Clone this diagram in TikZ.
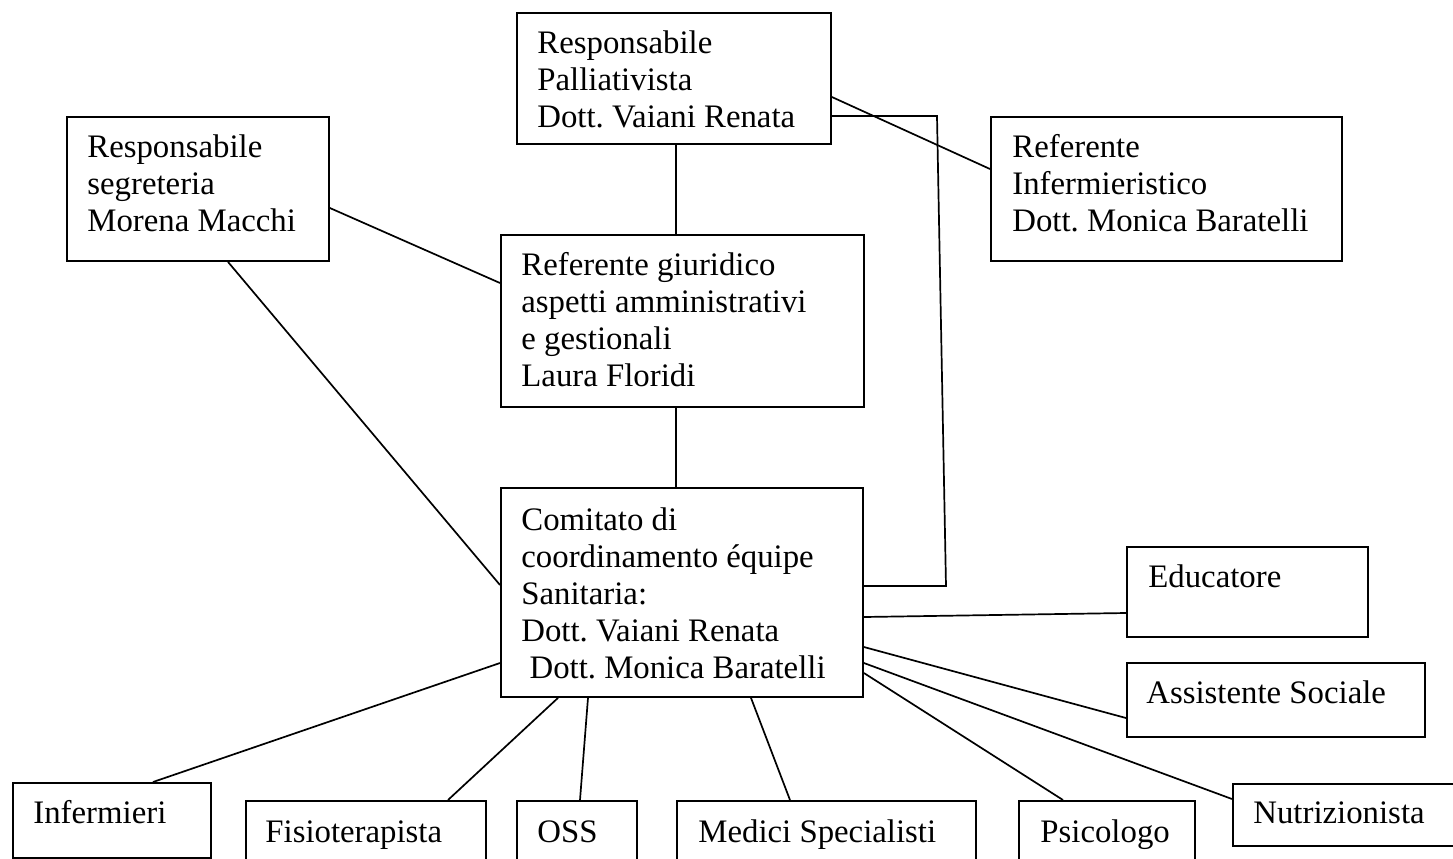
\documentclass[tikz,border=0pt]{standalone}
\usepackage{fontspec}
\setmainfont{Liberation Serif}
\usetikzlibrary{calc}
\frenchspacing
\def\px{0.5pt}
\tikzset{
  box/.style={draw, line width=0.95pt, inner sep=0pt, anchor=north west, fill=white},
  txt/.style={anchor=base west, inner sep=0pt, font=\fontsize{16.4}{18.5}\selectfont},
  conn/.style={line width=0.85pt}
}
\newcommand{\lns}[1]{\begin{tabular}[t]{@{}l@{}}#1\end{tabular}}
\begin{document}
\begin{tikzpicture}[x=0.5pt,y=-0.5pt]
\fill[white] (0,0) rectangle (1453,858);
\clip (0,0) rectangle (1453,858);
% boxes
\node[box, minimum width=314*\px, minimum height=131*\px] (pall) at (516,12) {};
\node[box, minimum width=262*\px, minimum height=144*\px] (seg) at (66,116) {};
\node[box, minimum width=351*\px, minimum height=144*\px] (ref) at (990,116) {};
\node[box, minimum width=363*\px, minimum height=172*\px] (giur) at (500,234) {};
\node[box, minimum width=362*\px, minimum height=209*\px] (com) at (500,487) {};
\node[box, minimum width=241*\px, minimum height=90*\px] (edu) at (1126,546) {};
\node[box, minimum width=298*\px, minimum height=74*\px] (ass) at (1126,662) {};
\node[box, minimum width=198*\px, minimum height=75*\px] (inf) at (12,782) {};
\node[box, minimum width=240*\px, minimum height=80*\px] (fis) at (245,800) {};
\node[box, minimum width=120*\px, minimum height=80*\px] (oss) at (516,800) {};
\node[box, minimum width=299*\px, minimum height=80*\px] (med) at (676,800) {};
\node[box, minimum width=176*\px, minimum height=80*\px] (psi) at (1018,800) {};
\node[box, minimum width=238*\px, minimum height=62*\px] (nut) at (1232,783) {};
% texts
\node[txt] (tpall) at ($(pall.north west)+(21,41)$) {\lns{Responsabile\\Palliativista\\Dott. Vaiani Renata}};
\node[txt] (tseg) at ($(seg.north west)+(21,41)$) {\lns{Responsabile\\segreteria\\Morena Macchi}};
\node[txt] (tref) at ($(ref.north west)+(22,41)$) {\lns{Referente\\Infermieristico\\Dott. Monica Baratelli}};
\node[txt] (tgiur) at ($(giur.north west)+(21,41)$) {\lns{Referente giuridico\\aspetti amministrativi\\e gestionali\\Laura Floridi}};
\node[txt] (tcom) at ($(com.north west)+(21,43)$) {\lns{Comitato di\\coordinamento équipe\\Sanitaria:\\Dott. Vaiani Renata\\\ Dott. Monica Baratelli}};
\node[txt] (tedu) at ($(edu.north west)+(22,41)$) {Educatore};
\node[txt] (tass) at ($(ass.north west)+(20,41)$) {Assistente Sociale};
\node[txt] (tinf) at ($(inf.north west)+(21,41)$) {Infermieri};
\node[txt] (tfis) at ($(fis.north west)+(20,42)$) {Fisioterapista};
\node[txt] (toss) at ($(oss.north west)+(21,42)$) {OSS};
\node[txt] (tmed) at ($(med.north west)+(22,42)$) {Medici Specialisti};
\node[txt] (tpsi) at ($(psi.north west)+(22,42)$) {Psicologo};
\node[txt] (tnut) at ($(nut.north west)+(21,40)$) {Nutrizionista};
% connectors
\coordinate (e1) at (937,116);
\coordinate (e2) at (946,586);
\draw[conn] ($(pall.south west)+(160,0)$) -- ($(giur.north west)+(176,0)$);
\draw[conn] ($(giur.south west)+(176,0)$) -- ($(com.north west)+(176,0)$);
\draw[conn] ($(seg.north east)+(0,92)$) -- ($(giur.north west)+(0,49)$);
\draw[conn] ($(seg.south west)+(162,0)$) -- ($(com.north west)+(0,98)$);
\draw[conn] ($(pall.north east)+(0,85)$) -- ($(ref.north west)+(0,53)$);
\draw[conn] ($(pall.north east)+(0,104)$) -- (e1) -- (e2) -- ($(com.north east)+(0,99)$);
\draw[conn] ($(com.north east)+(0,130)$) -- ($(edu.north west)+(0,67)$);
\draw[conn] ($(com.north east)+(0,160)$) -- ($(ass.north west)+(0,56)$);
\draw[conn] ($(com.north east)+(0,176)$) -- ($(nut.north west)+(0,16)$);
\draw[conn] ($(com.north east)+(0,186)$) -- ($(psi.north west)+(45,0)$);
\draw[conn] ($(com.south west)+(251,0)$) -- ($(med.north west)+(114,0)$);
\draw[conn] ($(com.south west)+(88,0)$) -- ($(oss.north west)+(64,0)$);
\draw[conn] ($(com.south west)+(58,0)$) -- ($(fis.north west)+(203,0)$);
\draw[conn] ($(com.north west)+(0,176)$) -- ($(inf.north west)+(141,0)$);
\end{tikzpicture}
\end{document}
